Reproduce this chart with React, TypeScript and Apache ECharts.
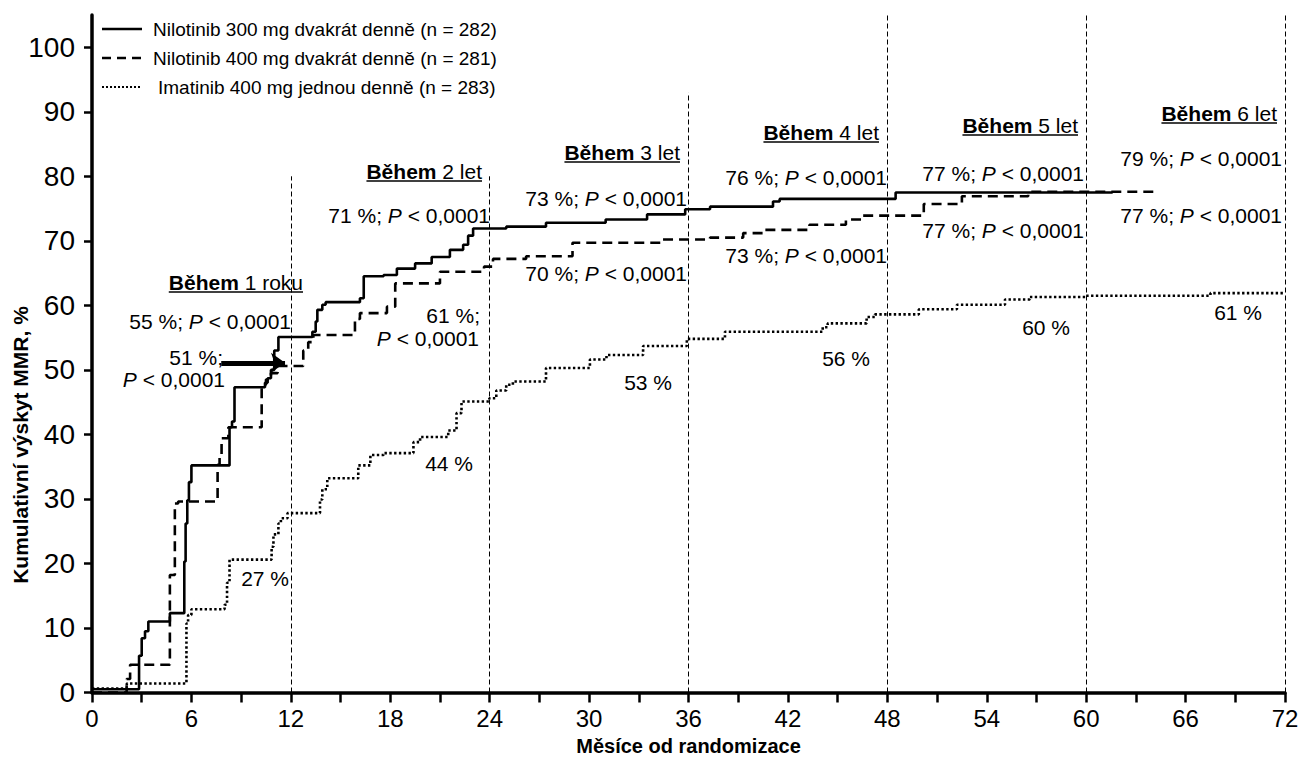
import React, { useEffect, useRef } from 'react';
import * as echarts from 'echarts';

// ---------- DATA ----------
const seriesNames = [
  'Nilotinib 300 mg dvakrát denně (n = 282)',
  'Nilotinib 400 mg dvakrát denně (n = 281)',
  'Imatinib 400 mg jednou denně (n = 283)',
];

// [month, cumulative MMR %] – value reached at that month (step curve)
const nilotinib300: [number, number][] = [
  [0, 0.5], [2.84, 5.7], [3.0, 8.4], [3.2, 9.5], [3.4, 11.0], [4.7, 12.3],
  [5.57, 20.3], [5.65, 26.2], [5.75, 29.8], [5.85, 32.6], [6.0, 35.2],
  [8.3, 41.1], [8.45, 42.0], [8.6, 47.3],
  [10.44, 48.0], [10.6, 48.7], [10.8, 50.0], [11.0, 53.0], [11.25, 55.1],
  [13.3, 55.9], [13.5, 57.5], [13.6, 59.3], [13.9, 60.1], [14.1, 60.5],
  [16.17, 61.1], [16.4, 64.5], [17.6, 64.7], [18.4, 65.7], [19.5, 66.5],
  [20.5, 67.5], [21.6, 68.6], [22.4, 69.4], [22.7, 70.8], [23.0, 71.9],
  [25.0, 72.2], [27.4, 72.8], [31.0, 73.3], [33.5, 74.1], [35.8, 74.9],
  [37.3, 75.3], [41.1, 76.1], [41.5, 76.5], [48.5, 77.5], [61.6, 77.5],
];

const nilotinib400: [number, number][] = [
  [0, 0], [2.09, 2.1], [2.3, 4.3], [4.7, 18.2], [5.0, 29.3], [5.2, 29.6],
  [7.58, 35.3], [7.7, 36.8], [7.82, 39.4], [8.23, 41.1],
  [10.24, 47.7], [10.5, 48.5], [10.8, 49.5], [11.2, 50.6],
  [12.75, 53.0], [13.05, 54.3], [13.36, 55.4], [15.87, 57.9], [16.17, 58.8],
  [17.8, 59.8], [18.3, 63.4], [21.0, 65.2], [23.66, 66.0], [24.2, 67.2],
  [26.2, 67.6], [29.0, 69.7], [34.3, 70.2], [37.3, 70.5], [39.3, 71.2],
  [40.5, 71.7], [43.3, 72.5], [45.5, 73.3], [46.5, 73.9], [50.2, 75.7],
  [52.5, 76.9], [56.5, 77.6], [64.3, 77.6],
];

const imatinib400: [number, number][] = [
  [0, 0.6], [2.1, 1.4], [5.7, 10.7], [5.8, 12.0], [6.0, 12.9], [8.0, 13.6],
  [8.15, 17.0], [8.3, 20.6], [10.84, 22.6], [10.95, 24.5], [11.25, 26.2],
  [11.4, 27.0], [11.8, 27.8], [13.76, 29.9], [13.9, 31.5], [14.2, 33.2],
  [16.07, 35.2], [16.8, 36.8], [17.6, 37.1], [19.4, 38.8], [19.8, 39.6],
  [21.5, 40.6], [22.0, 43.3], [22.3, 45.1], [23.98, 45.6], [24.4, 46.8],
  [25.0, 47.7], [25.4, 48.2], [27.4, 50.3], [30.05, 51.6], [31.05, 52.3],
  [33.26, 53.7], [35.9, 54.8], [38.2, 55.9], [44.1, 56.6], [44.4, 57.2],
  [46.75, 58.2], [47.25, 58.6], [49.9, 59.4], [52.2, 60.1], [55.1, 60.9],
  [56.6, 61.3], [60.0, 61.5], [67.5, 61.9], [72, 61.9],
];

const yTickValues = [0, 10, 20, 30, 40, 50, 60, 70, 80, 90, 100];
const milestoneMonths = [12, 24, 36, 48, 60, 72];
const milestoneLineTops = [80, 80, 93, 105, 105, 105];
const milestoneLabels = ['1 roku', '2 let', '3 let', '4 let', '5 let', '6 let'];
const arrowFrom: [number, number] = [7.8, 51.1];
const arrowTo: [number, number] = [11.65, 51.1];

const annotationTexts = [
  '55 %; {i|P} < 0,0001', '51 %;', '{i|P} < 0,0001', '27 %',
  '71 %; {i|P} < 0,0001', '61 %;', '{i|P} < 0,0001', '44 %',
  '73 %; {i|P} < 0,0001', '70 %; {i|P} < 0,0001', '53 %',
  '76 %; {i|P} < 0,0001', '73 %; {i|P} < 0,0001', '56 %',
  '77 %; {i|P} < 0,0001', '77 %; {i|P} < 0,0001', '60 %',
  '79 %; {i|P} < 0,0001', '77 %; {i|P} < 0,0001', '61 %',
];

// ---------- LAYOUT (pixels) ----------
const annotationPos: [number, number][] = [
  [291, 321], [223, 357], [225, 379], [289, 578],
  [490, 215], [480, 315], [479, 338], [473, 463],
  [687, 198], [687, 273], [672, 382],
  [887, 177], [887, 255], [870, 358],
  [1084, 173], [1084, 230], [1070, 327],
  [1282, 158], [1282, 215], [1262, 312],
];
const milestonePos: [number, number][] = [
  [303, 282], [482, 171], [680, 152], [879, 132], [1078, 125], [1277, 113],
];

const FONT = '"Liberation Sans", Arial, Helvetica, sans-serif';

function measure(text: string, font: string): number {
  const c = document.createElement('canvas').getContext('2d');
  if (!c) return text.length * 10;
  c.font = font;
  return c.measureText(text).width;
}

export default function App() {
  const ref = useRef<HTMLDivElement>(null);

  useEffect(() => {
    if (!ref.current) return;
    const chart = echarts.init(ref.current, undefined, { renderer: 'svg' });

    const black = '#000';
    const textBase = { fontFamily: FONT, fontSize: 21, fill: black };
    const rich = { i: { fontStyle: 'italic', fontFamily: FONT, fontSize: 21, fill: black } };

    const graphics: any[] = [];

    // legend
    const legendY = [29, 58, 87];
    const legendDash: any[] = [null, [9, 6], [2, 2]];
    const legendTextX = [153, 153, 158];
    seriesNames.forEach((name, i) => {
      graphics.push({
        type: 'line', silent: true,
        shape: { x1: 102, y1: legendY[i], x2: 142, y2: legendY[i] },
        style: { stroke: black, lineWidth: i === 2 ? 2.2 : 2.5, lineDash: legendDash[i] },
      });
      graphics.push({
        type: 'text', silent: true, x: legendTextX[i], y: legendY[i],
        style: { text: name, fontFamily: FONT, fontSize: 19, fill: black, align: 'left', verticalAlign: 'middle' },
      });
    });

    // milestone labels "Během N ..."
    milestoneLabels.forEach((lab, i) => {
      const [xr, yc] = milestonePos[i];
      const w = measure('Během', `bold 21px ${FONT}`) + measure(' ' + lab, `21px ${FONT}`);
      graphics.push({
        type: 'text', silent: true, x: xr, y: yc,
        style: {
          text: '{b|Během} ' + lab, ...textBase, align: 'right', verticalAlign: 'middle',
          rich: { b: { fontWeight: 'bold', fontFamily: FONT, fontSize: 21, fill: black } },
        },
      });
      graphics.push({
        type: 'line', silent: true,
        shape: { x1: xr - w, y1: yc + 10, x2: xr, y2: yc + 10 },
        style: { stroke: black, lineWidth: 1.6 },
      });
    });

    // annotations
    annotationTexts.forEach((t, i) => {
      const [xr, yc] = annotationPos[i];
      graphics.push({
        type: 'text', silent: true, x: xr, y: yc,
        style: { text: t, ...textBase, align: 'right', verticalAlign: 'middle', rich },
      });
    });

    // y axis title
    graphics.push({
      type: 'text', silent: true, x: 20, y: 445, rotation: Math.PI / 2,
      style: {
        text: 'Kumulativní výskyt MMR, %', fontFamily: FONT, fontSize: 21, fontWeight: 'bold',
        fill: black, align: 'center', verticalAlign: 'middle',
      },
    });

    const refLines = milestoneMonths.map((m, i) => [
      { coord: [m, 0], symbol: 'none' },
      { coord: [m, milestoneLineTops[i]], symbol: 'none' },
    ]);
    const arrowLine = [
      { coord: arrowFrom, symbol: 'none', lineStyle: { color: black, width: 5, type: 'solid' } },
      { coord: arrowTo, symbol: 'arrow', symbolSize: [15, 14], lineStyle: { color: black, width: 5, type: 'solid' } },
    ];

    const option: any = {
      animation: false,
      backgroundColor: '#fff',
      grid: {
        left: 92, right: 16, top: 15, bottom: 80.5,
        containLabel: false, outerBoundsMode: 'none',
      },
      xAxis: {
        type: 'value', min: 0, max: 72, interval: 3,
        axisLine: { lineStyle: { color: black, width: 3.5 } },
        axisTick: { length: 10, lineStyle: { color: black, width: 2.5 } },
        axisLabel: {
          formatter: (v: number) => (v % 6 === 0 ? String(v) : ''),
          fontSize: 24, color: black, fontFamily: FONT, margin: 14,
        },
        splitLine: { show: false },
        name: 'Měsíce od randomizace', nameLocation: 'middle', nameGap: 43,
        nameTextStyle: { fontSize: 20, fontWeight: 'bold', color: black, fontFamily: FONT },
      },
      yAxis: {
        type: 'value', min: 0, max: 105, interval: 10,
        axisLine: { show: true, lineStyle: { color: black, width: 3.5 } },
        axisTick: { show: true, length: 8, customValues: yTickValues, lineStyle: { color: black, width: 2.5 } },
        axisLabel: {
          customValues: yTickValues,
          formatter: (v: number) => (v % 10 === 0 && v <= 100 ? String(v) : ''),
          fontSize: 28, color: black, fontFamily: FONT, margin: 17,
        },
        splitLine: { show: false },
      },
      series: [
        {
          name: seriesNames[2], type: 'line', step: 'end', symbol: 'none', silent: true, z: 3,
          data: imatinib400,
          lineStyle: { color: black, width: 2.6, type: [2.4, 2.4] },
          markLine: {
            silent: true, symbol: ['none', 'none'], label: { show: false },
            lineStyle: { color: black, width: 1, type: [5, 3] },
            emphasis: { disabled: true },
            data: [...refLines, arrowLine],
          },
        },
        {
          name: seriesNames[1], type: 'line', step: 'end', symbol: 'none', silent: true, z: 4,
          data: nilotinib400,
          lineStyle: { color: black, width: 2.6, type: [10, 6] },
        },
        {
          name: seriesNames[0], type: 'line', step: 'end', symbol: 'none', silent: true, z: 5,
          data: nilotinib300,
          lineStyle: { color: black, width: 2.6, type: 'solid' },
        },
      ],
      graphic: graphics,
    };

    chart.setOption(option);
    return () => chart.dispose();
  }, []);

  return (
    <div
      ref={ref}
      style={{ position: 'fixed', left: 0, top: 0, width: 1301, height: 773, background: '#fff' }}
    />
  );
}
